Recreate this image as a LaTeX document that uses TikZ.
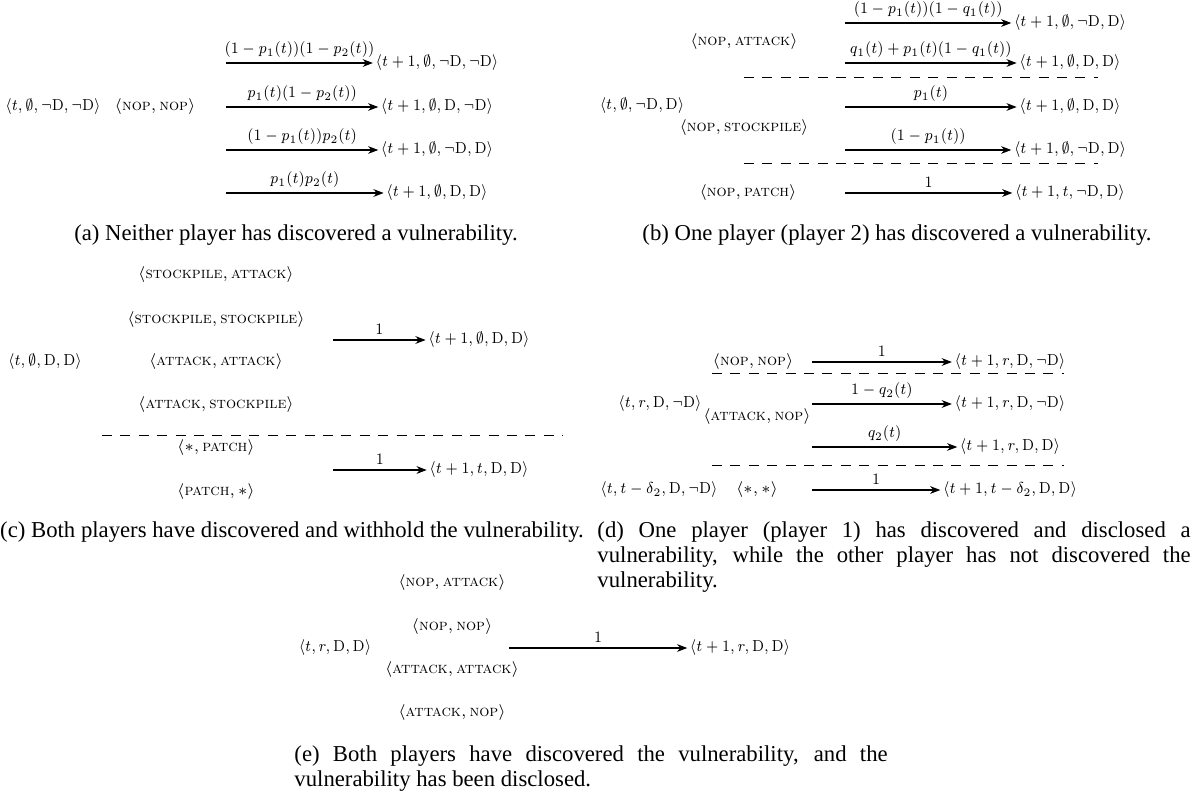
\documentclass[tikz,border=0pt]{standalone}
\usepackage{amsmath}
\usepackage{graphicx}
\usepackage{fontspec}
\newfontfamily\capfont{Liberation Serif}
\usepackage{tikz}
\usetikzlibrary{arrows.meta,positioning,calc}
\newcommand{\dis}{\mathrm{D}}
\newcommand{\ndis}{\neg\mathrm{D}}
\newcommand{\mv}[1]{\textsc{#1}}
\newcommand{\sq}[1]{\scalebox{0.88}[1]{$#1$}}
\newcommand{\capsetup}{\capfont\fontsize{10}{11}\selectfont}
\tikzset{
  state/.style={inner sep=1pt, font=\fontsize{7}{8.4}\selectfont},
  action/.style={inner sep=1pt, font=\fontsize{7}{8.4}\selectfont},
  prob/.style={above, inner sep=2pt, font=\fontsize{7}{8.4}\selectfont},
  trans/.style={-{Stealth[length=4.5pt,width=3.4pt]}, line width=0.5pt},
  divider/.style={line width=0.4pt, dash pattern=on 4.4pt off 3.7pt},
  caption/.style={inner sep=0pt, font=\capsetup}
}

\begin{document}
\begin{tikzpicture}[x=0.44pt, y=-0.44pt]
  \useasboundingbox (0,0) rectangle (1192,797);

  % (a) neither player has discovered
  \node[state] (a0) at (53,107) {\sq{\langle t,\emptyset,\ndis,\ndis\rangle}};
  \node[action] (aAct) at (155,107) {$\langle\mv{nop},\mv{nop}\rangle$};
  \coordinate (a1s) at (226,63);
  \coordinate (a2s) at (226,107);
  \coordinate (a3s) at (226,150);
  \coordinate (a4s) at (226,193);
  \node[state] (a1) at (437,63) {\sq{\langle t+1,\emptyset,\ndis,\ndis\rangle}};
  \node[state] (a2) at (437,107) {\sq{\langle t+1,\emptyset,\dis,\ndis\rangle}};
  \node[state] (a3) at (437,150) {\sq{\langle t+1,\emptyset,\ndis,\dis\rangle}};
  \node[state] (a4) at (437,193) {\sq{\langle t+1,\emptyset,\dis,\dis\rangle}};
  \draw[trans] (a1s) -- node[prob] {\sq{(1-p_1(t))(1-p_2(t))}} (a1);
  \draw[trans] (a2s) -- node[prob] {\sq{p_1(t)(1-p_2(t))}} (a2);
  \draw[trans] (a3s) -- node[prob] {\sq{(1-p_1(t))p_2(t)}} (a3);
  \draw[trans] (a4s) -- node[prob] {\sq{p_1(t)p_2(t)}} (a4);
  \node[caption] (capA) at (296,235) {(a) Neither player has discovered a vulnerability.};

  % (b) player 2 has discovered
  \node[state] (b0) at (642,106) {\sq{\langle t,\emptyset,\ndis,\dis\rangle}};
  \node[action] (bAct1) at (744,42) {$\langle\mv{nop},\mv{attack}\rangle$};
  \node[action] (bAct2) at (744,128) {$\langle\mv{nop},\mv{stockpile}\rangle$};
  \node[action] (bAct3) at (748,193) {$\langle\mv{nop},\mv{patch}\rangle$};
  \coordinate (b1s) at (845,23);
  \coordinate (b2s) at (845,63);
  \coordinate (b3s) at (845,107);
  \coordinate (b4s) at (845,150);
  \coordinate (b5s) at (845,193);
  \node[state] (b1) at (1070,23) {\sq{\langle t+1,\emptyset,\ndis,\dis\rangle}};
  \node[state] (b2) at (1070,63) {\sq{\langle t+1,\emptyset,\dis,\dis\rangle}};
  \node[state] (b3) at (1070,107) {\sq{\langle t+1,\emptyset,\dis,\dis\rangle}};
  \node[state] (b4) at (1070,150) {\sq{\langle t+1,\emptyset,\ndis,\dis\rangle}};
  \node[state] (b5) at (1070,193) {\sq{\langle t+1,t,\ndis,\dis\rangle}};
  \draw[trans] (b1s) -- node[prob] {\sq{(1-p_1(t))(1-q_1(t))}} (b1);
  \draw[trans] (b2s) -- node[prob] {\sq{q_1(t)+p_1(t)(1-q_1(t))}} (b2);
  \draw[trans] (b3s) -- node[prob] {\sq{p_1(t)}} (b3);
  \draw[trans] (b4s) -- node[prob] {\sq{(1-p_1(t))}} (b4);
  \draw[trans] (b5s) -- node[prob] {\sq{1}} (b5);
  \draw[divider] (744,77) -- (1098,77);
  \draw[divider] (744,163) -- (1098,163);
  \node[caption] (capB) at (897,235) {(b) One player (player 2) has discovered a vulnerability.};

  % (c) both withhold
  \node[state] (c0) at (45,362) {\sq{\langle t,\emptyset,\dis,\dis\rangle}};
  \node[action] (cAct1) at (216,275) {$\langle\mv{stockpile},\mv{attack}\rangle$};
  \node[action] (cAct2) at (216,320) {$\langle\mv{stockpile},\mv{stockpile}\rangle$};
  \node[action] (cAct3) at (216,362) {$\langle\mv{attack},\mv{attack}\rangle$};
  \node[action] (cAct4) at (216,405) {$\langle\mv{attack},\mv{stockpile}\rangle$};
  \node[action] (cAct5) at (216,448) {$\langle\ast,\mv{patch}\rangle$};
  \node[action] (cAct6) at (216,492) {$\langle\mv{patch},\ast\rangle$};
  \coordinate (c1s) at (333,340);
  \coordinate (c2s) at (333,470);
  \node[state] (c1) at (479,340) {\sq{\langle t+1,\emptyset,\dis,\dis\rangle}};
  \node[state] (c2) at (479,470) {\sq{\langle t+1,t,\dis,\dis\rangle}};
  \draw[trans] (c1s) -- node[prob] {\sq{1}} (c1);
  \draw[trans] (c2s) -- node[prob] {\sq{1}} (c2);
  \draw[divider] (102,435) -- (563,435);
  \node[caption] (capC) at (292,532) {(c) Both players have discovered and withhold the vulnerability.};

  % (d) player 1 disclosed
  \node[state] (d0) at (660,404) {\sq{\langle t,r,\dis,\ndis\rangle}};
  \node[state] (d00) at (659,490) {\sq{\langle t,t-\delta_2,\dis,\ndis\rangle}};
  \node[action] (dAct1) at (753,362) {$\langle\mv{nop},\mv{nop}\rangle$};
  \node[action] (dAct2) at (757,417) {$\langle\mv{attack},\mv{nop}\rangle$};
  \node[action] (dAct3) at (757,490) {$\langle\ast,\ast\rangle$};
  \coordinate (d1s) at (812,362);
  \coordinate (d2s) at (812,404);
  \coordinate (d3s) at (812,447);
  \coordinate (d4s) at (812,490);
  \node[state] (d1) at (1010,362) {\sq{\langle t+1,r,\dis,\ndis\rangle}};
  \node[state] (d2) at (1010,404) {\sq{\langle t+1,r,\dis,\ndis\rangle}};
  \node[state] (d3) at (1010,447) {\sq{\langle t+1,r,\dis,\dis\rangle}};
  \node[state] (d4) at (1010,490) {\sq{\langle t+1,t-\delta_2,\dis,\dis\rangle}};
  \draw[trans] (d1s) -- node[prob] {\sq{1}} (d1);
  \draw[trans] (d2s) -- node[prob] {\sq{1-q_2(t)}} (d2);
  \draw[trans] (d3s) -- node[prob] {\sq{q_2(t)}} (d3);
  \draw[trans] (d4s) -- node[prob] {\sq{1}} (d4);
  \draw[divider] (712,373) -- (1064,373);
  \draw[divider] (712,465) -- (1064,465);
  \node[caption, text width=261pt, align=justify, anchor=north west] (capD) at (597,521)
    {(d) One player (player 1) has discovered and disclosed a\linebreak
     vulnerability, while the other player has not discovered the\linebreak
     vulnerability.};

  % (e) both discovered, disclosed
  \node[state] (e0) at (335,648) {\sq{\langle t,r,\dis,\dis\rangle}};
  \node[action] (eAct1) at (452,583) {$\langle\mv{nop},\mv{attack}\rangle$};
  \node[action] (eAct2) at (452,627) {$\langle\mv{nop},\mv{nop}\rangle$};
  \node[action] (eAct3) at (452,670) {$\langle\mv{attack},\mv{attack}\rangle$};
  \node[action] (eAct4) at (452,713) {$\langle\mv{attack},\mv{nop}\rangle$};
  \coordinate (e1s) at (509,648);
  \node[state] (e1) at (740,648) {\sq{\langle t+1,r,\dis,\dis\rangle}};
  \draw[trans] (e1s) -- node[prob] {\sq{1}} (e1);
  \node[caption, text width=261pt, align=justify, anchor=north west] (capE) at (294,745)
    {(e) Both players have discovered the vulnerability, and the\linebreak
     vulnerability has been disclosed.};
\end{tikzpicture}
\end{document}
